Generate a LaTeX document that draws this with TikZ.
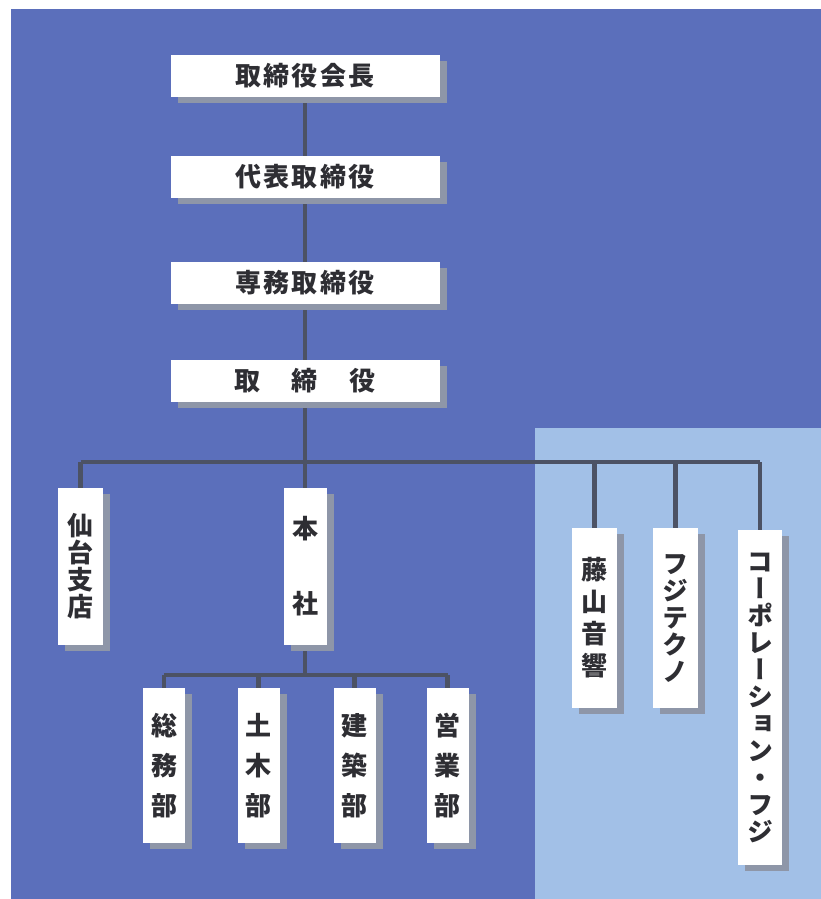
\documentclass[tikz,border=0pt]{standalone}
\usepackage{fontspec}
\newfontfamily\jph[LetterSpace=8]{Noto Sans CJK JP}
\newfontfamily\jpv[RawFeature=+vert]{Noto Sans CJK JP}
\usetikzlibrary{shadows}
\definecolor{darkbg}{HTML}{5B6FBB}
\definecolor{lightbg}{HTML}{A2C0E7}
\definecolor{shadowc}{HTML}{8E96A8}
\definecolor{linec}{HTML}{4C5264}
\definecolor{textc}{HTML}{2E2E33}
\pgfdeclarelayer{bg}\pgfdeclarelayer{lines}\pgfsetlayers{bg,lines,main}
\begin{document}
\begin{tikzpicture}[x=1pt,y=-1pt,
  boxbase/.style={fill=white, inner sep=0pt, text=textc,
    general shadow={fill=shadowc, shadow xshift=7pt, shadow yshift=-6pt}},
  hbox/.style={boxbase, minimum width=269pt, minimum height=42pt,
    font=\jph\bfseries\fontsize{26}{28}\selectfont},
  vbox/.style={boxbase, align=center, font=\jpv\bfseries\fontsize{26}{27}\selectfont},
  subbox/.style={vbox, minimum width=42pt, minimum height=155pt,
    font=\jpv\bfseries\fontsize{26}{40}\selectfont},
  conn/.style={draw=linec, line width=4.5pt}]
\useasboundingbox (0,0) rectangle (821,899);
\begin{pgfonlayer}{bg}
  \fill[white] (0,0) rectangle (821,899);
  \fill[darkbg] (11,9) rectangle (821,899);
  \fill[lightbg] (535,428) rectangle (821,899);
\end{pgfonlayer}

% top chain
\node[hbox] (chair) at (305,76) {取締役会長};
\node[hbox] (rep) at (305,177) {代表取締役};
\node[hbox] (senmu) at (305,283) {専務取締役};
\node[hbox] (tori) at (305,381) {取\hspace{32pt}締\hspace{32pt}役};

% second level
\node[vbox, minimum width=45pt, minimum height=157pt] (sendai) at (80.5,566.5) {仙\\台\\支\\店};
\node[vbox, minimum width=43pt, minimum height=157pt] (honsha) at (305,566.5) {本\\[48pt]社};

\node[vbox, minimum width=45pt, minimum height=180pt] (fujiyama) at (594.5,618) {藤\\[5pt]山\\[5pt]音\\[5pt]響};
\node[vbox, minimum width=45pt, minimum height=180pt] (fujitechno) at (675.5,618) {フ\\ジ\\テ\\ク\\ノ};
\node[vbox, minimum width=44pt, minimum height=335pt] (corp) at (760,697.5) {コ\\ー\\ポ\\レ\\ー\\シ\\ョ\\ン\\・\\フ\\ジ};

% third level
\node[subbox] (soumu) at (164,765.5) {総\\務\\部};
\node[subbox] (doboku) at (258.5,765.5) {土\\木\\部};
\node[subbox] (kenchiku) at (354.5,765.5) {建\\築\\部};
\node[subbox] (eigyo) at (447.5,765.5) {営\\業\\部};

\coordinate (busL) at (80.5,462);
\coordinate (busR) at (760,462);
\coordinate (subL) at (164,675);
\coordinate (subR) at (447.5,675);

\begin{pgfonlayer}{lines}
  \draw[conn] (chair) -- (rep);
  \draw[conn] (rep) -- (senmu);
  \draw[conn] (senmu) -- (tori);
  \draw[conn] (tori) -- (honsha);
  \draw[conn] (busL) -- (busR);
  \draw[conn] (busL) -- (sendai.north);
  \draw[conn] (fujiyama.north |- busL) -- (fujiyama.north);
  \draw[conn] (fujitechno.north |- busL) -- (fujitechno.north);
  \draw[conn] (busR) -- (corp.north);
  \draw[conn] (honsha) -- (honsha.south |- subL);
  \draw[conn] (subL) -- (subR);
  \draw[conn] (subL) -- (soumu.north);
  \draw[conn] (doboku.north |- subL) -- (doboku.north);
  \draw[conn] (kenchiku.north |- subL) -- (kenchiku.north);
  \draw[conn] (subR) -- (eigyo.north);
\end{pgfonlayer}
\end{tikzpicture}
\end{document}
